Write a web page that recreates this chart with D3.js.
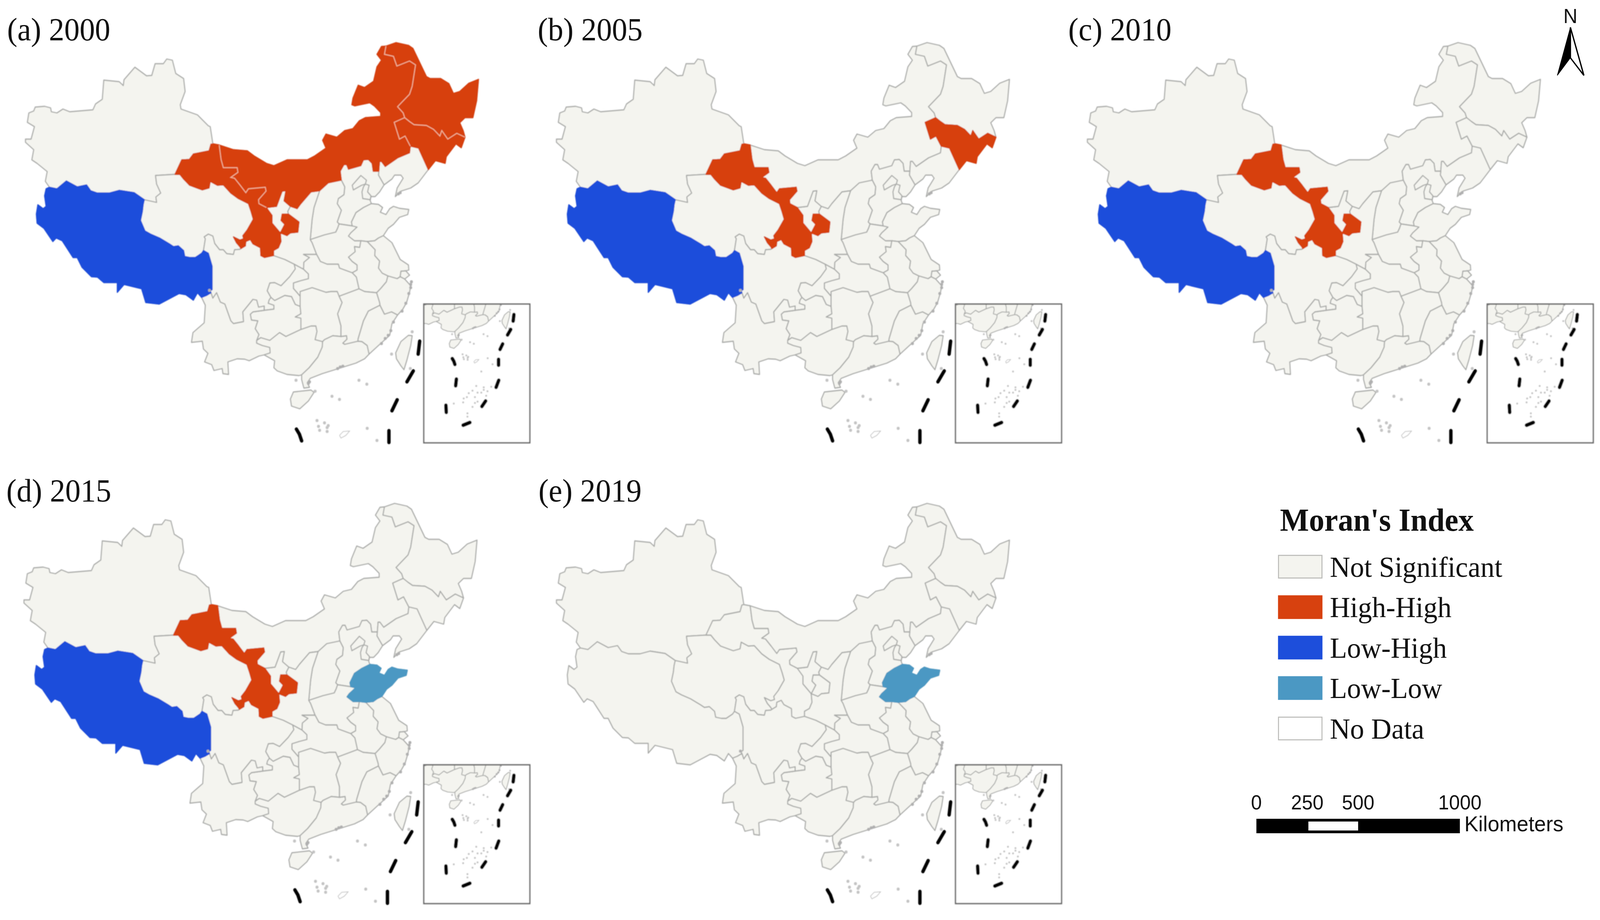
<!DOCTYPE html>
<html><head><meta charset="utf-8">
<script src="https://cdn.jsdelivr.net/npm/d3@7"></script>
<style>html,body{margin:0;padding:0;background:#fff;overflow:hidden;width:100%;height:100%}svg{display:block;width:100vw;height:100vh}</style></head>
<body><svg id="c" viewBox="0 0 4270 2354" preserveAspectRatio="none"></svg>
<script>
// ---------- panel titles and categories ----------
const panelTitles=['(a) 2000','(b) 2005','(c) 2010','(d) 2015','(e) 2019'];
const highHigh=[['Gansu','InnerMongolia','Heilongjiang','Jilin'],['Gansu','Jilin'],['Gansu'],['Gansu'],[]];
const lowHigh=[['Xizang'],['Xizang'],['Xizang'],['Xizang'],[]];
const lowLow=[[],[],[],['Shandong'],['Shandong']];
const legendLabels=['Not Significant','High-High','Low-High','Low-Low','No Data'];
const scaleTicks=[0,250,500,1000];
// ---------- shared province borders ----------
const xjOuter=[[1985,1547],[1978,1503],[1973,1501],[1944,1473],[1900,1458],[1898,1447],[1911,1413],[1907,1380],[1886,1367],[1877,1333],[1862,1330],[1853,1342],[1831,1342],[1822,1372],[1808,1373],[1777,1351],[1748,1383],[1746,1398],[1735,1388],[1694,1384],[1690,1433],[1672,1445],[1665,1460],[1603,1465],[1585,1458],[1569,1468],[1554,1465],[1552,1455],[1536,1451],[1511,1453],[1507,1463],[1494,1468],[1490,1492],[1509,1503],[1500,1535],[1485,1535],[1485,1543],[1507,1562],[1502,1588],[1516,1597],[1543,1618],[1538,1643],[1549,1658]];
const xjXz=[[1549,1658],[1569,1662],[1594,1642],[1623,1657],[1648,1652],[1659,1667],[1677,1673],[1708,1673],[1735,1666],[1775,1672],[1802,1690]];
const xjQh=[[1802,1690],[1835,1697],[1833,1683],[1846,1673],[1835,1650],[1832,1628],[1884,1625]];
const xjGs=[[1884,1625],[1902,1588],[1922,1587],[1933,1573],[1975,1565],[1980,1548],[1985,1547]];
const xzOuter=[[1549,1658],[1540,1662],[1536,1680],[1540,1707],[1532,1713],[1518,1703],[1514,1727],[1516,1750],[1534,1763],[1558,1797],[1567,1788],[1583,1795],[1612,1838],[1623,1838],[1636,1863],[1661,1887],[1677,1888],[1694,1902],[1730,1902],[1730,1927],[1748,1907],[1795,1918],[1806,1953],[1842,1957],[1895,1930],[1913,1933],[1933,1947],[1944,1928],[1955,1940]];
const xzYn=[[1955,1940],[1968,1935],[1980,1928]];
const xzSc=[[1980,1928],[1978,1923],[1983,1920],[1983,1860],[1973,1827],[1960,1820]];
const xzQh=[[1960,1820],[1955,1827],[1938,1838],[1925,1838],[1910,1835],[1907,1820],[1893,1808],[1880,1810],[1869,1803],[1843,1788],[1819,1778],[1804,1770],[1792,1743],[1797,1720],[1799,1703],[1802,1690]];
const qhGs=[[1884,1625],[1897,1625],[1907,1637],[1923,1653],[1957,1665],[1975,1660],[1978,1643],[1997,1653],[2013,1652],[2033,1673],[2053,1687],[2080,1700],[2087,1720],[2093,1740],[2077,1767],[2065,1782],[2067,1790],[2057,1793],[2040,1785],[2048,1800],[2057,1810],[2060,1815]];
const qhSc=[[1960,1820],[1965,1790],[1962,1785],[1973,1778],[1985,1783],[1990,1802],[2003,1818],[2013,1818],[2022,1828],[2040,1830],[2043,1818],[2057,1817],[2060,1815]];
const gsNorth=[[1985,1547],[2002,1550]];
const gsIm=[[2002,1550],[2007,1587],[2013,1608],[2050,1608],[2052,1620],[2033,1633],[2043,1635],[2058,1653],[2073,1672],[2080,1662],[2125,1658],[2127,1668],[2107,1690],[2108,1700],[2128,1710]];
const gsNxW=[[2128,1710],[2143,1730],[2143,1750],[2165,1775]];
const gsNxE=[[2165,1775],[2177,1753],[2167,1743],[2170,1727],[2187,1727]];
const gsSx1=[[2187,1727],[2215,1747],[2212,1773],[2192,1775],[2183,1782],[2165,1775]];
const gsSx2=[[2165,1775],[2167,1797],[2160,1813],[2147,1820],[2147,1833]];
const gsSc=[[2060,1815],[2072,1808],[2073,1797],[2085,1792],[2092,1803],[2112,1813],[2113,1833],[2123,1838],[2147,1833]];
const nxIm=[[2128,1710],[2155,1707],[2170,1668],[2180,1667],[2175,1693],[2192,1707]];
const nxSn=[[2192,1707],[2185,1720],[2187,1727]];
const imSn=[[2192,1707],[2210,1713],[2220,1700],[2247,1670],[2270,1667]];
const imSx=[[2270,1667],[2293,1647],[2328,1640]];
const imHe=[[2328,1640],[2325,1617],[2335,1600],[2342,1600],[2347,1612],[2380,1603],[2387,1588],[2400,1587],[2410,1597],[2413,1617],[2428,1617]];
const imLn=[[2428,1617],[2430,1592],[2435,1592],[2445,1605],[2478,1583],[2510,1570],[2512,1553]];
const imJl=[[2512,1553],[2498,1527],[2483,1535],[2469,1492],[2497,1480]];
const imHlj=[[2497,1480],[2493,1468],[2478,1452],[2510,1420],[2517,1400],[2526,1345],[2510,1335],[2476,1348],[2467,1323],[2443,1318],[2447,1297]];
const imNorth=[[2447,1297],[2435,1298],[2423,1318],[2435,1333],[2423,1350],[2414,1387],[2390,1403],[2373,1397],[2359,1430],[2356,1447],[2364,1450],[2404,1442],[2416,1450],[2433,1467],[2433,1477],[2392,1480],[2376,1488],[2359,1508],[2337,1513],[2316,1530],[2287,1522],[2278,1538],[2287,1558],[2257,1578],[2237,1588],[2183,1588],[2148,1603],[2128,1597],[2095,1578],[2077,1565],[2040,1562],[2002,1550]];
const hljOuter=[[2447,1297],[2474,1288],[2507,1295],[2519,1303],[2555,1375],[2565,1380],[2593,1380],[2615,1393],[2627,1418],[2644,1413],[2668,1392],[2694,1382],[2689,1437],[2679,1480],[2658,1480],[2644,1493],[2653,1513],[2658,1530]];
const hljJl=[[2497,1480],[2510,1490],[2522,1498],[2555,1500],[2574,1510],[2591,1527],[2596,1513],[2612,1535],[2636,1520],[2658,1530]];
const jlLn=[[2512,1553],[2534,1558],[2560,1613]];
const jlEast=[[2560,1613],[2579,1590],[2605,1597],[2608,1580],[2634,1547],[2648,1557],[2658,1530]];
const lnCoast=[[2560,1613],[2533,1647],[2513,1660],[2487,1668],[2472,1682],[2477,1660],[2493,1635],[2487,1627],[2470,1627],[2463,1637],[2442,1652]];
const lnHe=[[2428,1617],[2427,1627],[2442,1652]];
const heCoast=[[2442,1652],[2430,1670],[2418,1682],[2407,1682],[2405,1692],[2408,1700]];
const heSd=[[2357,1757],[2355,1747],[2367,1723],[2387,1710],[2408,1700]];
const heHn=[[2322,1752],[2357,1757]];
const heSx=[[2328,1640],[2337,1657],[2335,1677],[2320,1687],[2317,1700],[2328,1717],[2317,1747],[2322,1752]];
const sxSn=[[2270,1667],[2255,1710],[2250,1740],[2245,1792]];
const sxHn=[[2322,1752],[2318,1763],[2313,1773],[2283,1780],[2245,1792]];
const snHn=[[2245,1792],[2250,1800],[2262,1830]];
const snHb=[[2262,1830],[2227,1830],[2243,1838],[2228,1850],[2227,1868]];
const snCq=[[2227,1868],[2202,1855]];
const snSc=[[2202,1855],[2177,1843],[2147,1833]];
const hnHb=[[2262,1830],[2272,1848],[2290,1855],[2320,1855],[2323,1865],[2357,1877]];
const hnAh=[[2357,1877],[2370,1870],[2370,1857],[2357,1848],[2347,1837],[2365,1823],[2363,1810],[2377,1812],[2380,1795]];
const hnSd=[[2357,1757],[2370,1760],[2353,1775],[2347,1783],[2363,1795],[2380,1795]];
const sdAh=[[2380,1795],[2397,1797]];
const sdJs=[[2397,1797],[2417,1795],[2427,1788],[2440,1782]];
const sdCoast=[[2408,1700],[2427,1702],[2438,1710],[2432,1722],[2447,1728],[2457,1713],[2467,1707],[2483,1712],[2508,1715],[2505,1728],[2483,1735],[2467,1753],[2453,1763],[2440,1782]];
const jsAh=[[2397,1797],[2418,1818],[2417,1833],[2430,1847],[2427,1865],[2437,1878],[2452,1885]];
const jsCoast=[[2440,1782],[2463,1800],[2485,1843],[2507,1857],[2508,1870],[2500,1872]];
const jsSh=[[2500,1872],[2487,1873],[2485,1887]];
const jsZj=[[2452,1885],[2477,1892],[2485,1887]];
const shCoast=[[2500,1872],[2510,1883],[2497,1893]];
const shZj=[[2497,1893],[2485,1887]];
const zjCoast=[[2497,1893],[2513,1910],[2510,1927],[2502,1953],[2492,1970],[2478,1985]];
const zjAh=[[2452,1885],[2448,1900],[2433,1917],[2422,1928]];
const zjJx=[[2422,1928],[2430,1953],[2431,1960]];
const zjFj=[[2431,1960],[2443,1983],[2462,1977],[2478,1985]];
const ahHb=[[2357,1877],[2368,1888],[2375,1918]];
const ahJx=[[2375,1918],[2390,1925],[2422,1928]];
const hbCq=[[2227,1868],[2240,1880],[2240,1892],[2220,1897],[2200,1903],[2200,1917],[2218,1937]];
const hbHun=[[2218,1937],[2218,1925],[2250,1915],[2287,1927],[2300,1925],[2317,1925],[2322,1937]];
const hbJx=[[2322,1937],[2350,1927],[2375,1918]];
const cqSc=[[2202,1855],[2205,1867],[2190,1887],[2167,1910],[2150,1902],[2137,1903],[2130,1923],[2140,1940]];
const cqGz=[[2140,1940],[2150,1948],[2177,1935],[2195,1938],[2205,1958],[2218,1963]];
const cqHun=[[2218,1963],[2218,1937]];
const scGz=[[2140,1940],[2135,1947],[2133,1955],[2148,1960],[2148,1970],[2122,1973]];
const scYn=[[2122,1973],[2122,1962],[2107,1965],[2102,1947],[2092,1945],[2082,1957],[2065,1977],[2067,2002],[2040,2007],[2033,2000],[2017,1957],[2005,1952],[1995,1928],[1985,1942],[1980,1928]];
const gzYn=[[2122,1973],[2092,1977],[2085,1983],[2088,1998],[2105,2000],[2098,2020],[2108,2035],[2102,2050]];
const gzGx=[[2102,2050],[2113,2043],[2137,2050],[2163,2030],[2180,2040],[2220,2022]];
const gzHun=[[2220,2022],[2220,1993],[2205,1990],[2220,1982],[2218,1963]];
const ynGx=[[2102,2050],[2102,2057],[2117,2063],[2137,2068],[2138,2082],[2122,2087]];
const ynOuter=[[2122,2087],[2108,2090],[2082,2102],[2070,2098],[2050,2097],[2025,2105],[2027,2137],[2012,2135],[2010,2122],[1988,2127],[1982,2112],[1963,2105],[1972,2083],[1960,2072],[1957,2052],[1928,2055],[1932,2030],[1962,2005],[1965,1960],[1955,1940]];
const gxCoast=[[2122,2087],[2150,2102],[2148,2120],[2157,2128],[2183,2137],[2215,2140],[2222,2138]];
const gxGd=[[2278,2053],[2277,2067],[2265,2093],[2242,2120],[2222,2138]];
const gxHun=[[2220,2022],[2247,2013],[2260,2013],[2263,2027],[2258,2048],[2278,2053]];
const hunGd=[[2278,2053],[2283,2048],[2305,2038],[2327,2040]];
const hunJx=[[2322,1937],[2330,1953],[2318,1982],[2327,2013],[2327,2040]];
const gdJx=[[2327,2040],[2342,2038],[2343,2047],[2332,2057],[2337,2060],[2372,2052]];
const gdFj=[[2372,2052],[2383,2053],[2397,2063],[2402,2085]];
const gdCoast=[[2222,2138],[2222,2150],[2228,2172],[2243,2170],[2237,2158],[2245,2147],[2277,2135],[2317,2123],[2367,2108],[2390,2097],[2402,2085]];
const jxFj=[[2372,2052],[2373,2045],[2387,2000],[2400,1975],[2431,1960]];
const fjCoast=[[2478,1985],[2463,2007],[2457,2037],[2427,2063],[2402,2085]];
const beijing=[[2357,1653],[2380,1628],[2395,1640],[2392,1650],[2382,1653],[2360,1665]];
const tianjin=[[2392,1650],[2402,1653],[2398,1670],[2407,1680],[2405,1690],[2385,1687],[2383,1670],[2387,1657]];
const hainan=[[2200,2182],[2247,2177],[2255,2183],[2240,2205],[2217,2225],[2195,2218],[2192,2200]];
const taiwan=[[2507,2037],[2517,2038],[2513,2063],[2503,2100],[2495,2125],[2487,2115],[2475,2097],[2473,2082],[2487,2053]];
const zhongsha=[[2323,2293],[2333,2283],[2350,2282],[2340,2293],[2327,2300],[2323,2293]];
const islands=[[2375,2152],[2396,2162],[2303,2193],[2323,2201],[2263,2255],[2283,2261],[2293,2268],[2267,2270],[2270,2280],[2290,2273],[2290,2283],[2397,2275],[2423,2306],[2462,2085],[2517,2028],[2512,2122],[2207,2152],[2258,2180],[2336,2417],[2316,2441],[2343,2451],[2296,2454],[2286,2474],[2329,2474],[2269,2481],[2216,2507],[2266,2501],[2329,2504],[2343,2497],[2316,2524],[2376,2437],[2396,2444],[2416,2421],[2289,2557],[2289,2574],[2376,2424],[2363,2451],[2389,2467],[2363,2343]];
const coastBlobs=[[2325,2118],[2318,2122],[2332,2116],[2513,1907],[2515,1900],[2513,1915],[2508,1930],[2500,1955],[2490,1975],[2467,2003],[2460,2025],[2453,2037],[2445,2045],[2435,2058],[2480,1675],[2485,1672],[2240,2160],[2243,2156],[1976,1922]];
const nineDash=[[[2537,2052],[2533,2085]],[[2520,2128],[2503,2156]],[[2477,2202],[2463,2230]],[[2455,2281],[2455,2311]],[[2208,2277],[2216,2290],[2222,2307]],[[2456,2388],[2442,2424]],[[2386,2494],[2366,2522]],[[2302,2604],[2266,2618]],[[2174,2516],[2176,2552]],[[2230,2382],[2226,2416]]];

const r=a=>a.slice().reverse();
const ring=(...arcs)=>{const o=[];arcs.forEach(a=>a.forEach((p,i)=>{if(i>0||o.length===0)o.push(p)}));return o};
const provinces=[
 ['Xinjiang',ring(xjOuter,xjXz,xjQh,xjGs)],
 ['Xizang',ring(xzOuter,xzYn,xzSc,xzQh,r(xjXz))],
 ['Qinghai',ring(xjQh,qhGs,r(qhSc),xzQh)],
 ['Gansu',ring(gsNorth,gsIm,gsNxW,gsNxE,gsSx1,gsSx2,r(gsSc),r(qhGs),xjGs)],
 ['Ningxia',ring(nxIm,nxSn,r(gsNxE),r(gsNxW))],
 ['InnerMongolia',ring(imNorth,gsIm,nxIm,imSn,imSx,imHe,imLn,imJl,imHlj)],
 ['Heilongjiang',ring(hljOuter,r(hljJl),imHlj)],
 ['Jilin',ring(r(imJl),jlLn,jlEast,r(hljJl))],
 ['Liaoning',ring(imLn,jlLn,lnCoast,r(lnHe))],
 ['Hebei',ring(r(imHe),heSx,heHn,heSd,r(heCoast),r(lnHe))],
 ['Shanxi',ring(imSx,heSx,sxHn,r(sxSn))],
 ['Shaanxi',ring(r(imSn),nxSn,gsSx1,gsSx2,r(snSc),r(snCq),r(snHb),r(snHn),r(sxSn))],
 ['Henan',ring(sxHn,snHn,hnHb,hnAh,r(hnSd),r(heHn))],
 ['Shandong',ring(heSd,sdCoast,r(sdJs),r(sdAh),r(hnSd))],
 ['Jiangsu',ring(sdJs,jsCoast,jsSh,r(jsZj),r(jsAh))],
 ['Shanghai',ring(r(jsSh),shCoast,shZj)],
 ['Zhejiang',ring(jsZj,r(shZj),zjCoast,r(zjFj),r(zjJx),r(zjAh))],
 ['Anhui',ring(r(hnAh),ahHb,ahJx,r(zjAh),r(jsAh),r(sdAh))],
 ['Hubei',ring(hnHb,ahHb,r(hbJx),r(hbHun),r(hbCq),r(snHb))],
 ['Chongqing',ring(snCq,cqSc,cqGz,cqHun,r(hbCq))],
 ['Sichuan',ring(gsSc,r(snSc),cqSc,scGz,scYn,xzSc,qhSc)],
 ['Guizhou',ring(scGz,gzYn,gzGx,gzHun,r(cqGz))],
 ['Yunnan',ring(r(scYn),gzYn,ynGx,ynOuter,xzYn)],
 ['Guangxi',ring(gzGx,gxHun,gxGd,r(gxCoast),r(ynGx))],
 ['Hunan',ring(hbHun,hunJx,r(hunGd),r(gxHun),gzHun,cqHun)],
 ['Guangdong',ring(hunGd,gdJx,gdFj,r(gdCoast),r(gxGd))],
 ['Jiangxi',ring(hbJx,ahJx,zjJx,r(jxFj),r(gdJx),r(hunJx))],
 ['Fujian',ring(jxFj,zjFj,fjCoast,r(gdFj))],
 ['Beijing',beijing],['Tianjin',tianjin],['Hainan',hainan],['Taiwan',taiwan]
].map(([name,pts])=>({type:'Feature',properties:{name},geometry:{type:'Polygon',coordinates:[[...pts,pts[0]]]}}));
const innerHighHigh=[gsIm,imHlj,hljJl,imJl];

const colNS='#f4f4ef',colBorder='#a9aaa8',colHH='#d7410f',colLH='#1d4edb',colLL='#4b98c3';
const colorOf=d3.scaleOrdinal().domain(legendLabels).range([colNS,colHH,colLH,colLL,'#ffffff']);
const panelOffsetX=d3.scaleOrdinal().domain(panelTitles).range([-1417,0,1417,-1421,0]);
const panelOffsetY=d3.scaleOrdinal().domain(panelTitles).range([-1179,-1179,-1179,0,0]);
const insetOffsetX=d3.scaleOrdinal().domain(panelTitles).range([-1419,0,1419,-1419,0]);
const titleX=d3.scaleOrdinal().domain(panelTitles).range([19,1435,2851,17,1437]);
const titleY=d3.scaleOrdinal().domain(panelTitles).range([103,103,103,1283,1283]);

const svg=d3.select('#c');
const defs=svg.append('defs');
defs.append('clipPath').attr('id','mainClip').append('rect').attr('x',1400).attr('y',1250).attr('width',1400).attr('height',1072);
defs.append('clipPath').attr('id','insetClip').append('rect').attr('x',2550).attr('y',1957).attr('width',283).attr('height',355);
defs.append('filter').attr('id','soft').attr('filterUnits','userSpaceOnUse').attr('x',1400).attr('y',1250).attr('width',1460).attr('height',1090)
  .append('feGaussianBlur').attr('stdDeviation',0.9);

svg.append('rect').attr('width',4270).attr('height',2354).attr('fill','#fff');
const root=svg.append('g');

const mainProj=d3.geoIdentity();
const insetProj=d3.geoIdentity().scale(0.5).translate([2633-2222*0.5,2058-2200*0.5]);

function drawMap(g,proj,idx,sw,dashW,dotR){
  const path=d3.geoPath(proj).pointRadius(dotR);
  const status=n=>highHigh[idx].includes(n)?'High-High':lowHigh[idx].includes(n)?'Low-High':lowLow[idx].includes(n)?'Low-Low':'Not Significant';
  g.selectAll('path.base').data(provinces).join('path').attr('class','base').attr('d',path)
    .attr('fill',colNS).attr('stroke',colBorder).attr('stroke-width',sw).attr('stroke-linejoin','round');
  const hot=provinces.filter(p=>status(p.properties.name)!=='Not Significant');
  g.selectAll('path.hot').data(hot).join('path').attr('class','hot').attr('d',path)
    .attr('fill',d=>colorOf(status(d.properties.name))).attr('stroke',d=>colorOf(status(d.properties.name))).attr('stroke-width',sw).attr('stroke-linejoin','round');
  if(highHigh[idx].includes('InnerMongolia')){
    g.selectAll('path.inner').data(innerHighHigh).join('path').attr('class','inner')
      .attr('d',a=>path({type:'LineString',coordinates:a})).attr('fill','none').attr('stroke','#f1b79c').attr('stroke-width',2.4);
  }
  g.append('path').attr('d',path({type:'MultiPoint',coordinates:islands})).attr('fill','#c4c4c4').attr('stroke','none');
  g.append('path').attr('d',path({type:'MultiPoint',coordinates:coastBlobs})).attr('fill','#b0b0b0');
  g.append('path').attr('d',path({type:'LineString',coordinates:zhongsha})).attr('fill','none').attr('stroke','#bdbdbd').attr('stroke-width',1.6);
  g.selectAll('path.dash').data(nineDash).join('path').attr('class','dash')
    .attr('d',a=>path({type:'LineString',coordinates:a})).attr('fill','none').attr('stroke','#000').attr('stroke-width',dashW).attr('stroke-linecap','round');
}

panelTitles.forEach((t,i)=>{
  const pg=root.append('g').attr('transform',`translate(${panelOffsetX(t)},${panelOffsetY(t)})`).append('g').attr('filter','url(#soft)');
  drawMap(pg.append('g').attr('clip-path','url(#mainClip)'),mainProj,i,2.8,9,4);
  const ig=root.append('g').attr('transform',`translate(${insetOffsetX(t)},${panelOffsetY(t)})`).append('g').attr('filter','url(#soft)');
  ig.append('rect').attr('x',2550).attr('y',1957).attr('width',283).attr('height',355).attr('fill','#fff');
  drawMap(ig.append('g').attr('clip-path','url(#insetClip)'),insetProj,4,2.2,9.5,2.6);
  ig.append('rect').attr('x',2550).attr('y',1957).attr('width',283).attr('height',355).attr('fill','none').attr('stroke','#666').attr('stroke-width',3.4);
  root.append('text').attr('x',titleX(t)).attr('y',titleY(t)).attr('font-family','"Liberation Serif"').attr('font-size',82).attr('fill','#111').text(t);
});

// ---------- legend ----------
const legend=root.append('g').attr('font-family','"Liberation Serif"').attr('fill','#111');
legend.append('text').attr('x',3416).attr('y',1358).attr('font-size',82).attr('font-weight','bold').text("Moran's Index");
const legendY=d3.scalePoint().domain(legendLabels).range([1421,1835]);
legend.selectAll('rect').data(legendLabels).join('rect')
  .attr('x',3412).attr('y',d=>legendY(d)).attr('width',116).attr('height',58)
  .attr('fill',d=>colorOf(d)).attr('stroke',d=>(d==='Not Significant'||d==='No Data')?'#b9b9b6':colorOf(d)).attr('stroke-width',2.6);
legend.selectAll('text.l').data(legendLabels).join('text').attr('class','l')
  .attr('x',3549).attr('y',d=>legendY(d)+55).attr('font-size',75).text(d=>d);

// ---------- scale bar ----------
const km=d3.scaleLinear().domain([0,1000]).range([3353,3896]);
const bar=root.append('g').attr('font-family','"Liberation Sans"').attr('fill','#111');
bar.append('rect').attr('x',km(0)).attr('y',2095).attr('width',km(1000)-km(0)).attr('height',37).attr('fill','#000');
bar.append('rect').attr('x',km(250)+3).attr('y',2102).attr('width',km(500)-km(250)-3).attr('height',23).attr('fill','#fff');
bar.selectAll('text.t').data(scaleTicks).join('text').attr('class','t').attr('x',d=>km(d)).attr('y',2071)
  .attr('text-anchor','middle').attr('font-size',52).text(d=>d);
bar.append('text').attr('x',3908).attr('y',2127).attr('font-size',56).text('Kilometers');

// ---------- north arrow ----------
const na=root.append('g');
na.append('text').attr('x',4191).attr('y',59).attr('text-anchor','middle').attr('font-family','"Liberation Sans"').attr('font-size',52).attr('fill','#111').text('N');
const line=d3.line();
na.append('path').attr('d',line([[4191,70],[4156,193],[4191,148]])+'Z').attr('fill','#000').attr('stroke','#000').attr('stroke-width',1.5);
na.append('path').attr('d',line([[4191,70],[4227,193],[4191,148]])+'Z').attr('fill','#fff').attr('stroke','#000').attr('stroke-width',3.5);
</script></body></html>
